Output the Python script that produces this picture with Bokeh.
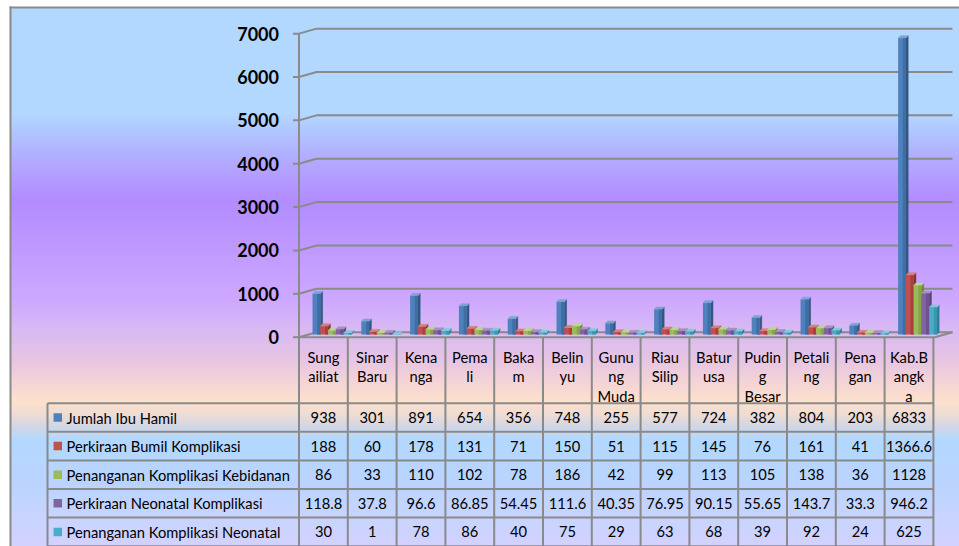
import numpy as np
from bokeh.plotting import figure
from bokeh.models import Range1d
from bokeh.core.properties import value
from bokeh.embed import file_html
from bokeh.resources import INLINE

# ---------------- data ----------------
category_labels = [
    ["Sung", "ailiat"], ["Sinar", "Baru"], ["Kena", "nga"], ["Pema", "li"],
    ["Baka", "m"], ["Belin", "yu"], ["Gunu", "ng", "Muda"], ["Riau", "Silip"],
    ["Batur", "usa"], ["Pudin", "g", "Besar"], ["Petali", "ng"], ["Pena", "gan"],
    ["Kab.B", "angk", "a"],
]
series_names = [
    "Jumlah Ibu Hamil",
    "Perkiraan Bumil Komplikasi",
    "Penanganan Komplikasi Kebidanan",
    "Perkiraan Neonatal Komplikasi",
    "Penanganan Komplikasi Neonatal",
]
jumlah_ibu_hamil = [938, 301, 891, 654, 356, 748, 255, 577, 724, 382, 804, 203, 6833]
perkiraan_bumil_komplikasi = [188, 60, 178, 131, 71, 150, 51, 115, 145, 76, 161, 41, 1366.6]
penanganan_komplikasi_kebidanan = [86, 33, 110, 102, 78, 186, 42, 99, 113, 105, 138, 36, 1128]
perkiraan_neonatal_komplikasi = [118.8, 37.8, 96.6, 86.85, 54.45, 111.6, 40.35, 76.95, 90.15, 55.65, 143.7, 33.3, 946.2]
penanganan_komplikasi_neonatal = [30, 1, 78, 86, 40, 75, 29, 63, 68, 39, 92, 24, 625]
y_ticks = [0, 1000, 2000, 3000, 4000, 5000, 6000, 7000]

series_values = [jumlah_ibu_hamil, perkiraan_bumil_komplikasi, penanganan_komplikasi_kebidanan,
                 perkiraan_neonatal_komplikasi, penanganan_komplikasi_neonatal]

# ---------------- style ----------------
front_colors = ["#4F81BD", "#C0504D", "#9BBB59", "#8064A2", "#4BACC6"]
side_colors = ["#34567F", "#86302E", "#6B8637", "#58447A", "#2F7F95"]
top_colors = ["#7FA3D0", "#D77F7C", "#BCD48C", "#A690C2", "#80C8DA"]
shade_colors = ["#3F6DA6", "#A8413E", "#86A549", "#6C5290", "#3B96AF"]
LINE = "#8A8A8A"
FONT = value("Lato")

W, H = 959, 546
X0, Y0 = 0, 0
COL_LEFT, COL_W = 298.5, 48.8
ZERO_Y, BAR_ZERO_Y = 336.7, 334.0
PX_PER_UNIT = 0.043366
DEPTH_X, DEPTH_Y = 17.5, 5.0
BAR_W_PX, BAR_SHIFT_PX = 7.75, 8.5
SIDE_X, SIDE_Y = 2.3, 2.5
HEADER_BOTTOM, ROW_H = 402.7, 28.6
LEGEND_LEFT = 47.0
N = len(category_labels)

p = figure(width=W, height=H, x_range=Range1d(X0, X0 + W), y_range=Range1d(Y0 + H, Y0),
           output_backend="svg", toolbar_location=None, min_border=0,
           x_axis_type=None, y_axis_type=None)
p.grid.visible = False
p.outline_line_color = None
p.background_fill_color = "white"
p.border_fill_color = "white"

p.extra_x_ranges = {"cat": Range1d((X0 - COL_LEFT) / COL_W, (X0 + W - COL_LEFT) / COL_W)}
p.extra_y_ranges = {
    "val": Range1d(-(Y0 + H - ZERO_Y) / PX_PER_UNIT, (ZERO_Y - Y0) / PX_PER_UNIT),
    "bar": Range1d(-(Y0 + H - BAR_ZERO_Y) / PX_PER_UNIT, (BAR_ZERO_Y - Y0) / PX_PER_UNIT),
}

# ---------------- background gradient ----------------
stops = [
    (7, "#99CCFF"), (112, "#99CCFF"), (135, "#97AEFF"), (165, "#9988FF"), (200, "#9966FF"),
    (255, "#AD7BFF"), (300, "#BD8BFF"), (330, "#CCA2F0"), (358, "#DDB0DB"), (383, "#F2C6C8"),
    (400, "#FCD6BC"), (413, "#EBD2C4"), (425, "#C6C9DA"), (440, "#99CCFF"), (480, "#A2C6FF"),
    (546, "#C4C4FF"),
]
def hex2rgb(h):
    return np.array([int(h[i:i + 2], 16) for i in (1, 3, 5)], dtype=float)
sy = np.array([s[0] for s in stops], dtype=float)
sc = np.array([hex2rgb(s[1]) for s in stops])
ys = np.arange(7, 546, 1.0)
cols = []
for y in ys:
    c = [np.interp(y + 0.5, sy, sc[:, k]) for k in range(3)]
    cols.append("#%02x%02x%02x" % tuple(int(round(v)) for v in c))
p.quad(left=10, right=X0 + W, top=ys, bottom=ys + 1.02, fill_color=cols, line_color=None)
p.segment(x0=[10, 9], y0=[6, 7], x1=[10, X0 + W], y1=[546, 7], line_color=LINE, line_width=2)

# ---------------- walls / gridlines ----------------
dxc = DEPTH_X / COL_W
dyv = DEPTH_Y / PX_PER_UNIT
right_c = (952 - COL_LEFT) / COL_W
p.multi_line(xs=[[0, dxc, right_c] for _ in y_ticks],
             ys=[[t, t + dyv, t + dyv] for t in y_ticks],
             x_range_name="cat", y_range_name="val", line_color=LINE, line_width=2)
# floor front and right edge
p.line(x=[0, right_c - dxc, right_c], y=[0, 0, dyv], x_range_name="cat", y_range_name="val",
       line_color=LINE, line_width=2)
# value axis
p.line(x=[0, 0], y=[0, max(y_ticks)], x_range_name="cat", y_range_name="val", line_color=LINE, line_width=2)
p.segment(x0=[-6 / COL_W] * len(y_ticks), x1=[0] * len(y_ticks), y0=y_ticks, y1=y_ticks,
          x_range_name="cat", y_range_name="val", line_color=LINE, line_width=2)
p.text(x=[-20 / COL_W] * len(y_ticks), y=y_ticks, text=[str(t) for t in y_ticks],
       x_range_name="cat", y_range_name="val", text_font=FONT, text_font_style="bold",
       text_font_size="18px", text_align="right", text_baseline="middle", text_color="black")

# ---------------- 3D bars ----------------
bw = BAR_W_PX / COL_W
sxc = SIDE_X / COL_W
syv = SIDE_Y / PX_PER_UNIT
for s, vals in enumerate(series_values):
    x0s = [i + 0.5 + (BAR_SHIFT_PX - 2.5 * BAR_W_PX + s * BAR_W_PX) / COL_W for i in range(N)]
    side_xs, side_ys, top_xs, top_ys = [], [], [], []
    for x0, v in zip(x0s, vals):
        x1 = x0 + bw
        side_xs.append([x1, x1 + sxc, x1 + sxc, x1])
        side_ys.append([0, syv, v + syv, v])
        top_xs.append([x0, x0 + sxc, x1 + sxc, x1])
        top_ys.append([v, v + syv, v + syv, v])
    p.patches(xs=side_xs, ys=side_ys, x_range_name="cat", y_range_name="bar",
              fill_color=side_colors[s], line_color=side_colors[s], line_width=0.5)
    p.patches(xs=top_xs, ys=top_ys, x_range_name="cat", y_range_name="bar",
              fill_color=top_colors[s], line_color=top_colors[s], line_width=0.5)
    p.vbar(x=[x + bw / 2 for x in x0s], width=bw, top=vals, bottom=0,
           x_range_name="cat", y_range_name="bar", fill_color=front_colors[s], line_color=None)
    p.vbar(x=[x + bw * 0.8 for x in x0s], width=bw * 0.4, top=vals, bottom=0,
           x_range_name="cat", y_range_name="bar", fill_color=shade_colors[s], line_color=None)

# ---------------- data table ----------------
table_bottom = HEADER_BOTTOM + ROW_H * len(series_names)
col_x = [i for i in range(N + 1)]
p.segment(x0=col_x, x1=col_x, y0=[ZERO_Y] * (N + 1), y1=[table_bottom + 4] * (N + 1),
          x_range_name="cat", line_color=LINE, line_width=2)
lc = (LEGEND_LEFT - COL_LEFT) / COL_W
row_lines = [HEADER_BOTTOM + ROW_H * k for k in range(len(series_names) + 1)]
p.segment(x0=[lc] * len(row_lines), x1=[N] * len(row_lines), y0=row_lines, y1=row_lines,
          x_range_name="cat", line_color=LINE, line_width=2)
p.segment(x0=[lc], x1=[lc], y0=[HEADER_BOTTOM], y1=[table_bottom + 4],
          x_range_name="cat", line_color=LINE, line_width=2)

# header labels
hx, hy, ht = [], [], []
for i, lines in enumerate(category_labels):
    for j, t in enumerate(lines):
        hx.append(i + 0.5)
        hy.append(356.0 + 19.5 * j)
        ht.append(t)
p.text(x=hx, y=hy, text=ht, x_range_name="cat", text_font=FONT, text_font_size="14.7px",
       text_align="center", text_baseline="middle", text_color="black")

def fmt(v):
    return str(int(v)) if float(v).is_integer() else str(v)

cx, cy, ct = [], [], []
for s, vals in enumerate(series_values):
    yc = HEADER_BOTTOM + ROW_H * (s + 0.5)
    for i, v in enumerate(vals):
        cx.append(i + 0.5)
        cy.append(yc)
        ct.append(fmt(v))
p.text(x=cx, y=cy, text=ct, x_range_name="cat", text_font=FONT, text_font_size="14.7px",
       text_align="center", text_baseline="middle", text_color="black")

# legend keys and series names
ry = [HEADER_BOTTOM + ROW_H * (s + 0.5) for s in range(len(series_names))]
p.rect(x=[57.3] * len(ry), y=ry, width=8.5, height=8.5, fill_color=front_colors, line_color=None)
p.text(x=[66] * len(ry), y=ry, text=series_names, text_font=FONT, text_font_size="14.7px",
       text_align="left", text_baseline="middle", text_color="black")

open("out.html", "w").write(file_html(p, INLINE))
